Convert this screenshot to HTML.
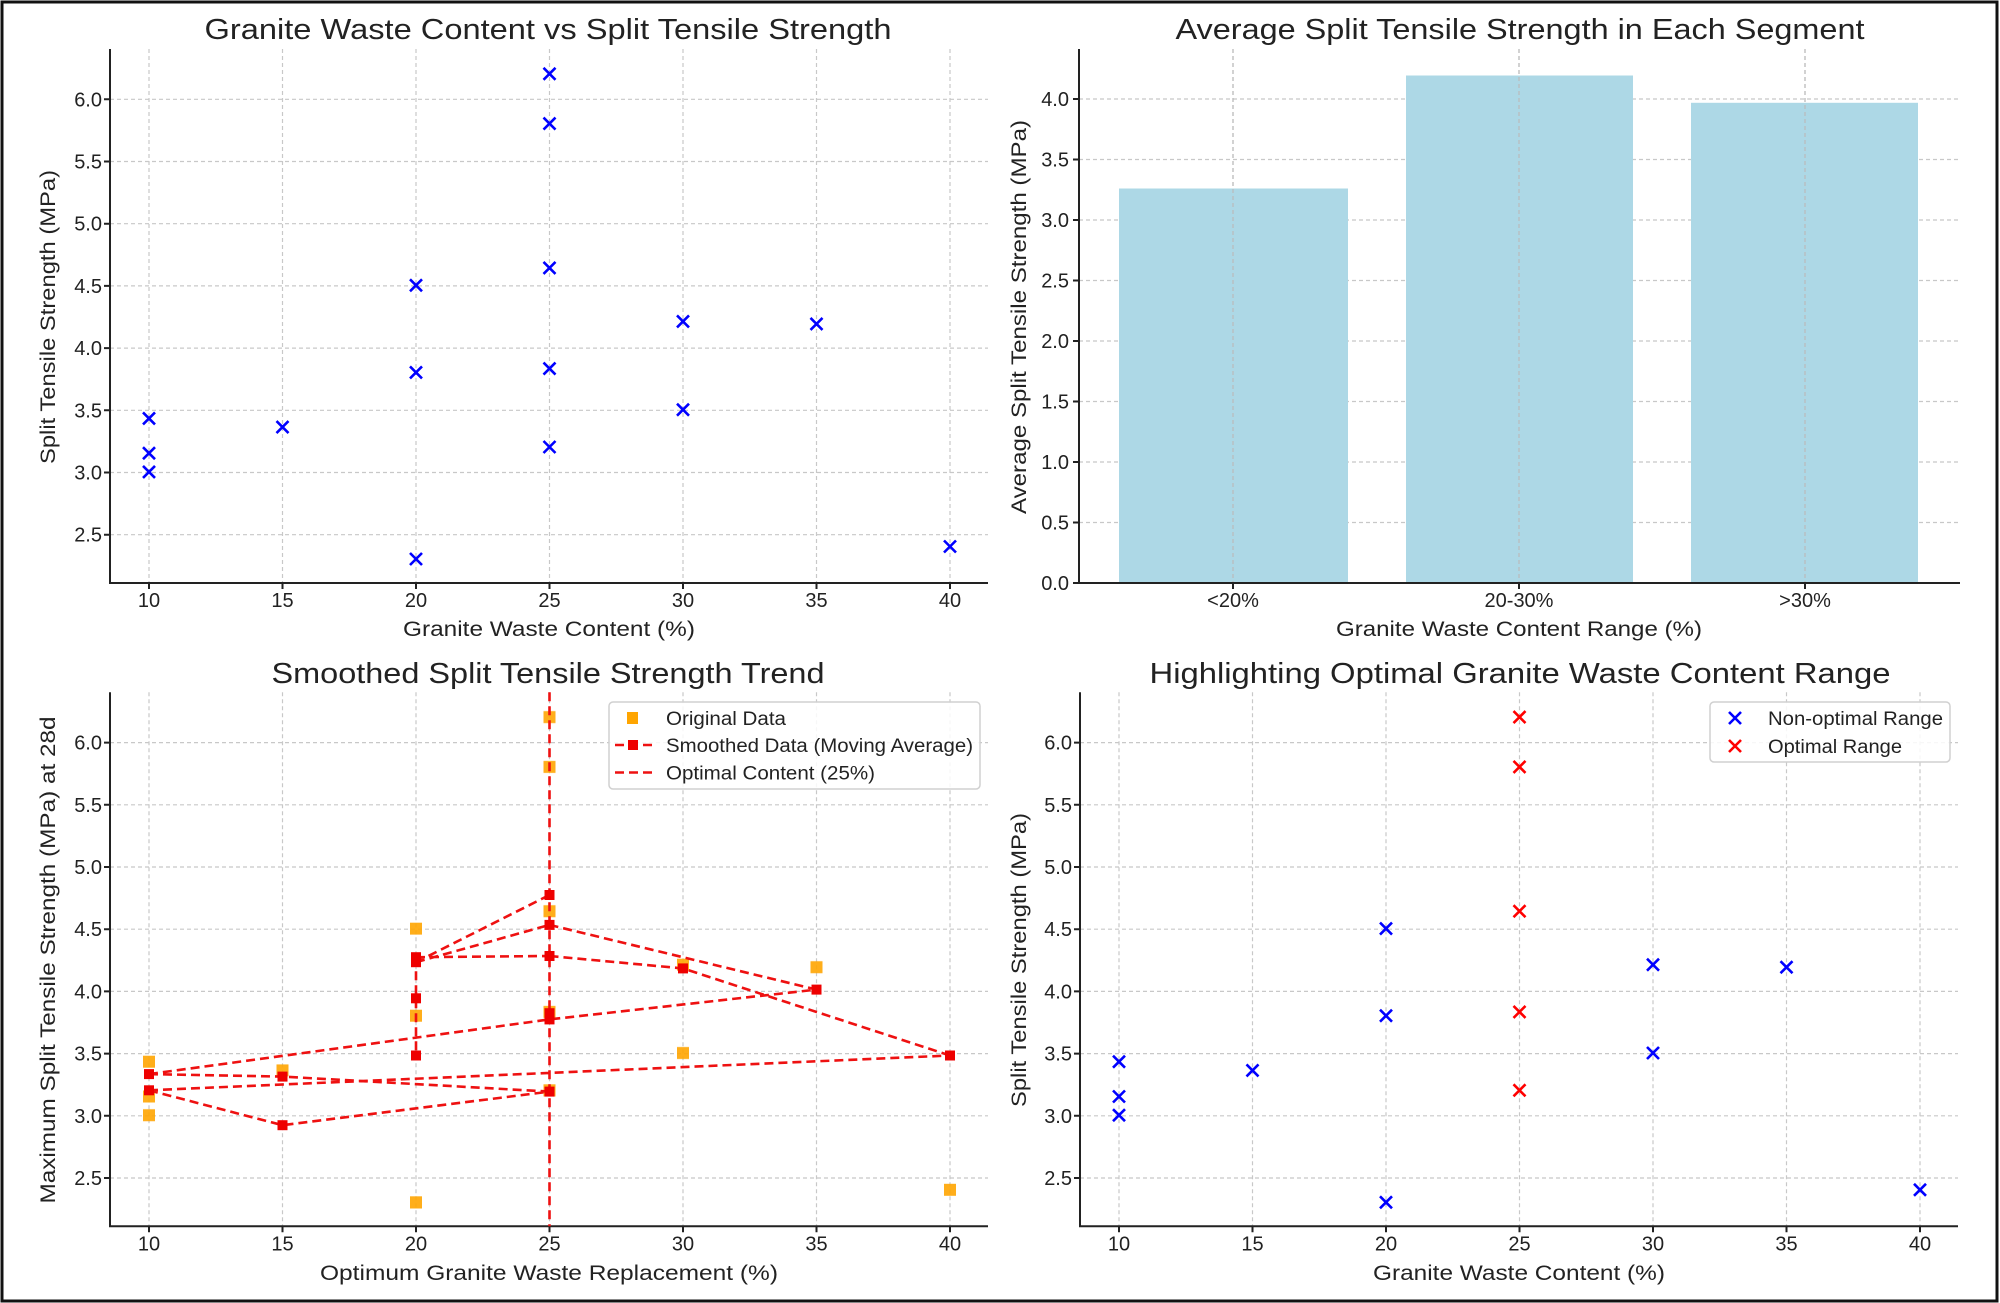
<!DOCTYPE html>
<html><head><meta charset="utf-8"><style>
html,body{margin:0;padding:0;background:#fff;}
svg{display:block;}
text{font-family:"Liberation Sans","DejaVu Sans",sans-serif;fill:#222;}
.t{font-size:29px;}
.tk{font-size:20px;}
.lb{font-size:21px;}
.lg{font-size:19px;}
.g{stroke:#c8c8c8;stroke-width:1.2;stroke-dasharray:4,3;fill:none;}
.sp{stroke:#222;stroke-width:2;fill:none;}
.bx{stroke:#0000ff;stroke-width:2.6;fill:none;}
.rx{stroke:#ff0000;stroke-width:2.6;fill:none;}
.rl{stroke:#ee1111;stroke-width:2.6;stroke-dasharray:9,5;fill:none;}
</style></head><body>
<svg width="2000" height="1303" viewBox="0 0 2000 1303" xmlns="http://www.w3.org/2000/svg">
<defs>
<g id="frame">
  <path class="g" d="M149,49V583M282.5,49V583M416,49V583M549.5,49V583M683,49V583M816.5,49V583M950,49V583"/>
  <path class="g" d="M110,534.7H988M110,472.5H988M110,410.3H988M110,348.1H988M110,285.9H988M110,223.7H988M110,161.5H988M110,99.3H988"/>
  <path class="sp" d="M110,49V583H988"/>
  <path class="sp" d="M149,583v6M282.5,583v6M416,583v6M549.5,583v6M683,583v6M816.5,583v6M950,583v6M110,534.7h-6M110,472.5h-6M110,410.3h-6M110,348.1h-6M110,285.9h-6M110,223.7h-6M110,161.5h-6M110,99.3h-6"/>
</g>
<path id="x" d="M-6,-6L6,6M-6,6L6,-6"/>
<rect id="sq" x="-6" y="-6" width="12" height="12"/>
</defs>
<rect x="2" y="2" width="1995" height="1299" fill="none" stroke="#111" stroke-width="3"/>

<!-- ===== Top-left ===== -->
<use href="#frame"/>
<text class="t" x="548" y="39" text-anchor="middle" textLength="687" lengthAdjust="spacingAndGlyphs">Granite Waste Content vs Split Tensile Strength</text>
<g class="tk" text-anchor="middle">
<text x="149" y="607">10</text><text x="282.5" y="607">15</text><text x="416" y="607">20</text><text x="549.5" y="607">25</text><text x="683" y="607">30</text><text x="816.5" y="607">35</text><text x="950" y="607">40</text>
</g>
<g class="tk" text-anchor="end">
<text x="102" y="541.7">2.5</text><text x="102" y="479.5">3.0</text><text x="102" y="417.3">3.5</text><text x="102" y="355.1">4.0</text><text x="102" y="292.9">4.5</text><text x="102" y="230.7">5.0</text><text x="102" y="168.5">5.5</text><text x="102" y="106.3">6.0</text>
</g>
<text class="lb" x="549" y="636" text-anchor="middle" textLength="292" lengthAdjust="spacingAndGlyphs">Granite Waste Content (%)</text>
<text class="lb" transform="translate(55,317) rotate(-90)" text-anchor="middle" textLength="294" lengthAdjust="spacingAndGlyphs">Split Tensile Strength (MPa)</text>
<g class="bx">
<use href="#x" x="149" y="418.4"/><use href="#x" x="149" y="453.2"/><use href="#x" x="149" y="471.9"/>
<use href="#x" x="282.5" y="427.1"/>
<use href="#x" x="416" y="285.3"/><use href="#x" x="416" y="372.4"/><use href="#x" x="416" y="559"/>
<use href="#x" x="549.5" y="73.8"/><use href="#x" x="549.5" y="123.6"/><use href="#x" x="549.5" y="267.9"/><use href="#x" x="549.5" y="368.6"/><use href="#x" x="549.5" y="447"/>
<use href="#x" x="683" y="321.4"/><use href="#x" x="683" y="409.7"/>
<use href="#x" x="816.5" y="323.9"/>
<use href="#x" x="950" y="546.5"/>
</g>

<!-- ===== Top-right ===== -->
<path class="g" d="M1233,49V583M1519,49V583M1805,49V583"/>
<path class="g" d="M1079,522.5H1960M1079,462H1960M1079,401.5H1960M1079,341H1960M1079,280.5H1960M1079,220H1960M1079,159.5H1960M1079,99H1960"/>
<g fill="#add8e6">
<rect x="1119" y="188.5" width="229" height="394.5"/>
<rect x="1406" y="75.5" width="227" height="507.5"/>
<rect x="1691" y="102.8" width="227" height="480.2"/>
</g>
<path class="g" style="stroke:#bbb" d="M1233,49V583M1519,49V583M1805,49V583"/>
<path class="sp" d="M1079,49V583H1960M1233,583v6M1519,583v6M1805,583v6M1079,583h-6M1079,522.5h-6M1079,462h-6M1079,401.5h-6M1079,341h-6M1079,280.5h-6M1079,220h-6M1079,159.5h-6M1079,99h-6"/>
<text class="t" x="1520" y="39" text-anchor="middle" textLength="689" lengthAdjust="spacingAndGlyphs">Average Split Tensile Strength in Each Segment</text>
<g class="tk" text-anchor="middle">
<text x="1233" y="607">&lt;20%</text><text x="1519" y="607">20-30%</text><text x="1805" y="607">&gt;30%</text>
</g>
<g class="tk" text-anchor="end">
<text x="1069" y="590">0.0</text><text x="1069" y="529.5">0.5</text><text x="1069" y="469">1.0</text><text x="1069" y="408.5">1.5</text><text x="1069" y="348">2.0</text><text x="1069" y="287.5">2.5</text><text x="1069" y="227">3.0</text><text x="1069" y="166.5">3.5</text><text x="1069" y="106">4.0</text>
</g>
<text class="lb" x="1519" y="636" text-anchor="middle" textLength="366" lengthAdjust="spacingAndGlyphs">Granite Waste Content Range (%)</text>
<text class="lb" transform="translate(1026,317) rotate(-90)" text-anchor="middle" textLength="394" lengthAdjust="spacingAndGlyphs">Average Split Tensile Strength (MPa)</text>

<!-- ===== Bottom-left ===== -->
<g transform="translate(0,643.3)">
<use href="#frame"/>
<g class="tk" text-anchor="middle">
<text x="149" y="607">10</text><text x="282.5" y="607">15</text><text x="416" y="607">20</text><text x="549.5" y="607">25</text><text x="683" y="607">30</text><text x="816.5" y="607">35</text><text x="950" y="607">40</text>
</g>
<g class="tk" text-anchor="end">
<text x="102" y="541.7">2.5</text><text x="102" y="479.5">3.0</text><text x="102" y="417.3">3.5</text><text x="102" y="355.1">4.0</text><text x="102" y="292.9">4.5</text><text x="102" y="230.7">5.0</text><text x="102" y="168.5">5.5</text><text x="102" y="106.3">6.0</text>
</g>
<g fill="#ffa500" opacity="0.9">
<use href="#sq" x="149" y="418.4"/><use href="#sq" x="149" y="453.2"/><use href="#sq" x="149" y="471.9"/>
<use href="#sq" x="282.5" y="427.1"/>
<use href="#sq" x="416" y="285.3"/><use href="#sq" x="416" y="372.4"/><use href="#sq" x="416" y="559"/>
<use href="#sq" x="549.5" y="73.8"/><use href="#sq" x="549.5" y="123.6"/><use href="#sq" x="549.5" y="267.9"/><use href="#sq" x="549.5" y="368.6"/><use href="#sq" x="549.5" y="447"/>
<use href="#sq" x="683" y="321.4"/><use href="#sq" x="683" y="409.7"/>
<use href="#sq" x="816.5" y="323.9"/>
<use href="#sq" x="950" y="546.5"/>
</g>
<path class="rl" d="M149,447L282.5,481.9L549.5,448.3M149,430.8L282.5,433.3L549.5,448.3M149,447L950,412.2M149,430.8L549.5,376.1L816.5,346.3M549.5,281.6L816.5,346.3M549.5,312.7L683,325.1L950,412.2M416,313.9L549.5,312.7M416,318.9L549.5,251.7M416,318.9L549.5,281.6M416,313.9V412.2M549.5,49V583"/>
<g fill="#ee0000">
<rect x="144" y="425.8" width="10" height="10"/><rect x="144" y="442" width="10" height="10"/>
<rect x="277.5" y="428.3" width="10" height="10"/><rect x="277.5" y="476.9" width="10" height="10"/>
<rect x="411" y="308.9" width="10" height="10"/><rect x="411" y="313.9" width="10" height="10"/><rect x="411" y="350" width="10" height="10"/><rect x="411" y="407.2" width="10" height="10"/>
<rect x="544.5" y="246.7" width="10" height="10"/><rect x="544.5" y="276.6" width="10" height="10"/><rect x="544.5" y="307.7" width="10" height="10"/><rect x="544.5" y="364.9" width="10" height="10"/><rect x="544.5" y="371.1" width="10" height="10"/><rect x="544.5" y="443.3" width="10" height="10"/>
<rect x="678" y="320.1" width="10" height="10"/>
<rect x="811.5" y="341.3" width="10" height="10"/>
<rect x="945" y="407.2" width="10" height="10"/>
</g>
</g>
<text class="t" x="548" y="683" text-anchor="middle" textLength="553" lengthAdjust="spacingAndGlyphs">Smoothed Split Tensile Strength Trend</text>
<text class="lb" x="549" y="1280" text-anchor="middle" textLength="458" lengthAdjust="spacingAndGlyphs">Optimum Granite Waste Replacement (%)</text>
<text class="lb" transform="translate(55,960) rotate(-90)" text-anchor="middle" textLength="487" lengthAdjust="spacingAndGlyphs">Maximum Split Tensile Strength (MPa) at 28d</text>
<rect x="609" y="702" width="371" height="87" rx="4" fill="#fff" fill-opacity="0.85" stroke="#d0d0d0" stroke-width="1.5"/>
<rect x="627" y="712" width="11" height="12" fill="#ffa500"/>
<path class="rl" d="M615,745H652M615,772.5H652"/>
<rect x="628" y="740" width="10" height="10" fill="#ee0000"/>
<g class="lg">
<text x="666" y="725" textLength="120" lengthAdjust="spacingAndGlyphs">Original Data</text>
<text x="666" y="752" textLength="307" lengthAdjust="spacingAndGlyphs">Smoothed Data (Moving Average)</text>
<text x="666" y="779.5" textLength="209" lengthAdjust="spacingAndGlyphs">Optimal Content (25%)</text>
</g>

<!-- ===== Bottom-right ===== -->
<g transform="translate(970,643.3)">
<use href="#frame"/>
<g class="tk" text-anchor="middle">
<text x="149" y="607">10</text><text x="282.5" y="607">15</text><text x="416" y="607">20</text><text x="549.5" y="607">25</text><text x="683" y="607">30</text><text x="816.5" y="607">35</text><text x="950" y="607">40</text>
</g>
<g class="tk" text-anchor="end">
<text x="102" y="541.7">2.5</text><text x="102" y="479.5">3.0</text><text x="102" y="417.3">3.5</text><text x="102" y="355.1">4.0</text><text x="102" y="292.9">4.5</text><text x="102" y="230.7">5.0</text><text x="102" y="168.5">5.5</text><text x="102" y="106.3">6.0</text>
</g>
<g class="bx">
<use href="#x" x="149" y="418.4"/><use href="#x" x="149" y="453.2"/><use href="#x" x="149" y="471.9"/>
<use href="#x" x="282.5" y="427.1"/>
<use href="#x" x="416" y="285.3"/><use href="#x" x="416" y="372.4"/><use href="#x" x="416" y="559"/>
<use href="#x" x="683" y="321.4"/><use href="#x" x="683" y="409.7"/>
<use href="#x" x="816.5" y="323.9"/>
<use href="#x" x="950" y="546.5"/>
</g>
<g class="rx">
<use href="#x" x="549.5" y="73.8"/><use href="#x" x="549.5" y="123.6"/><use href="#x" x="549.5" y="267.9"/><use href="#x" x="549.5" y="368.6"/><use href="#x" x="549.5" y="447"/>
</g>
</g>
<text class="t" x="1520" y="683" text-anchor="middle" textLength="741" lengthAdjust="spacingAndGlyphs">Highlighting Optimal Granite Waste Content Range</text>
<text class="lb" x="1519" y="1280" text-anchor="middle" textLength="292" lengthAdjust="spacingAndGlyphs">Granite Waste Content (%)</text>
<text class="lb" transform="translate(1026,960) rotate(-90)" text-anchor="middle" textLength="294" lengthAdjust="spacingAndGlyphs">Split Tensile Strength (MPa)</text>
<rect x="1710" y="702" width="240" height="60" rx="4" fill="#fff" fill-opacity="0.85" stroke="#d0d0d0" stroke-width="1.5"/>
<use href="#x" x="1735" y="718" class="bx"/>
<use href="#x" x="1735" y="746" class="rx"/>
<g class="lg">
<text x="1768" y="725" textLength="175" lengthAdjust="spacingAndGlyphs">Non-optimal Range</text>
<text x="1768" y="753" textLength="134" lengthAdjust="spacingAndGlyphs">Optimal Range</text>
</g>
</svg>
</body></html>
